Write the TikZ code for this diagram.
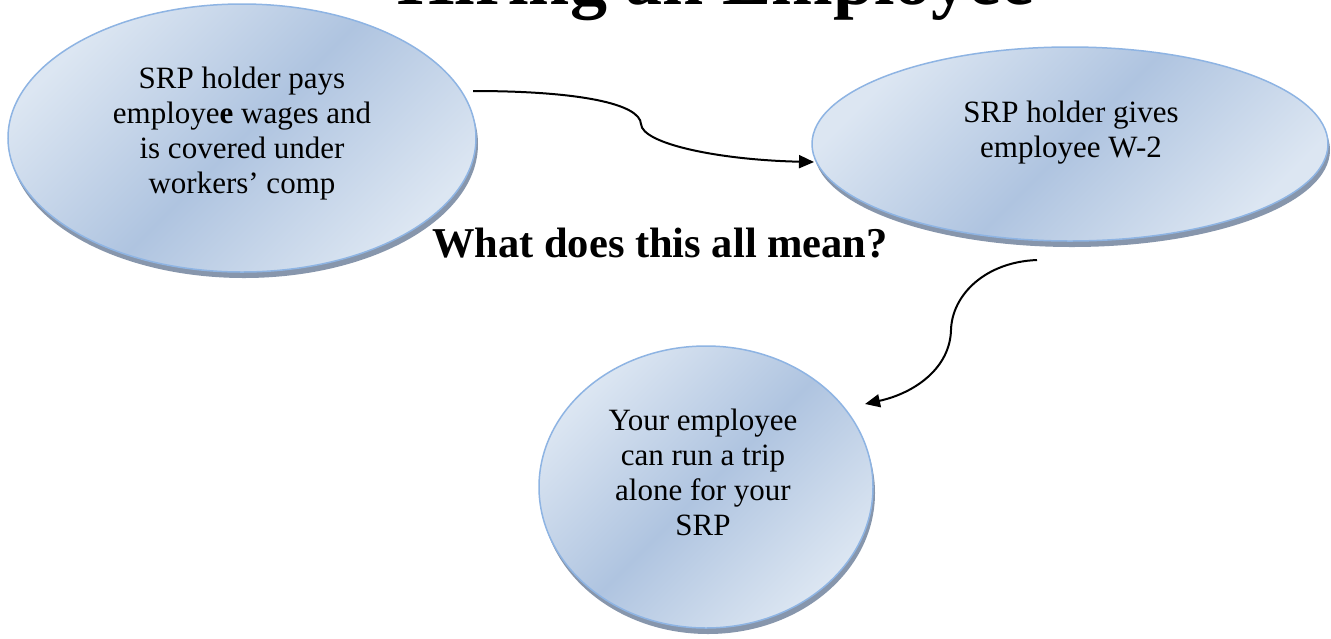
\documentclass[tikz,border=0pt]{standalone}
\usepackage{fontspec}
\setmainfont{Liberation Serif}
\usetikzlibrary{shapes.geometric,arrows.meta,shadows}
\definecolor{elLight}{HTML}{DCE6F2}
\definecolor{elDark}{HTML}{AFC4E0}
\definecolor{elEdge}{HTML}{8EB4E3}
\definecolor{elShadow}{HTML}{8796AC}
\pgfdeclarehorizontalshading{ellshade}{100bp}{color(0bp)=(elLight); color(25bp)=(elLight); color(50bp)=(elDark); color(75bp)=(elLight); color(100bp)=(elLight)}
\begin{document}
\begin{tikzpicture}[x=1pt,y=-1pt,
  bubble/.style={ellipse, draw=elEdge, line width=1.5pt, shading=ellshade, shading angle=-45, inner sep=0pt,
    drop shadow={shadow xshift=2pt, shadow yshift=-6pt, fill=elShadow, opacity=1}},
  bubbletext/.style={align=center, font=\fontsize{31}{35}\selectfont, inner sep=0pt},
  conn/.style={line width=2pt, -{Triangle[length=15pt,width=13pt]}}
]
\useasboundingbox (0,0) rectangle (1331,638);
\fill[white] (0,0) rectangle (1331,638);
\begin{scope}
\clip (0,0) rectangle (1331,638);
\node[font=\bfseries\fontsize{74}{80}\selectfont, anchor=base, inner sep=0pt] (title) at (716,4) {Hiring an Employee};
\end{scope}

\node[bubble, minimum width=468, minimum height=268] (e1) at (242,138) {};
\node[bubble, minimum width=516, minimum height=194] (e2) at (1070,144) {};
\node[bubble, minimum width=334, minimum height=282] (e3) at (706,487) {};

\node[bubbletext] (t1) at (242,134) {SRP holder pays\\employe\textbf{e} wages and\\is covered under\\workers’ comp};
\node[bubbletext] (t2) at (1071,133) {SRP holder gives\\employee W-2};
\node[bubbletext] (t3) at (703,472.5) {Your employee\\can run a trip\\alone for your\\SRP};

\node[font=\bfseries\fontsize{42.5}{46}\selectfont, anchor=base, inner sep=0pt] (q) at (660,257) {What does this all mean?};

\coordinate (c1s) at (473,91);
\coordinate (c1e) at (814,162);
\coordinate (c2s) at (1037,260);
\coordinate (c2e) at (865,404);
\draw[conn] (c1s) .. controls (580,91) and (640,104) .. (641,124) .. controls (642,144) and (720,160) .. (c1e);
\draw[conn] (c2s) .. controls (985,262) and (952,295) .. (951,330) .. controls (950,368) and (915,393) .. (c2e);
\end{tikzpicture}
\end{document}
